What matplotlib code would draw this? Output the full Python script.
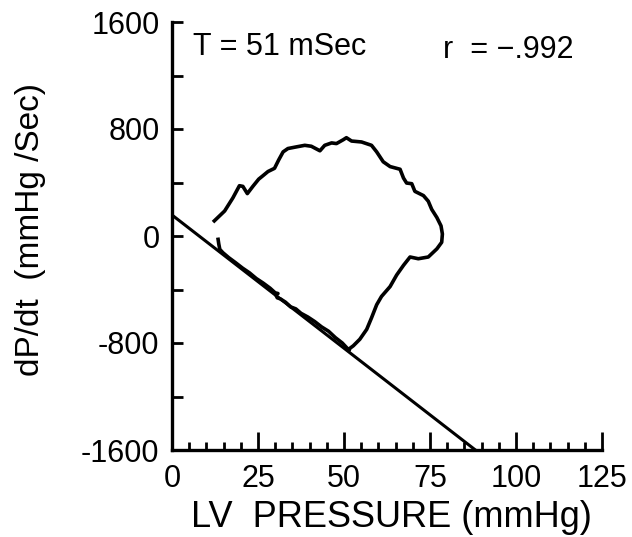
import matplotlib.pyplot as plt
from matplotlib.ticker import MultipleLocator

plt.rcParams['font.family'] = ['Liberation Sans', 'DejaVu Sans']

# dP/dt vs LV pressure loop
loop_p = [12.3, 15.3, 17.7, 19.6, 20.6, 21.9, 23.5, 25.2, 26.4, 27.9, 29.8,
          31.0, 32.3, 33.7, 36.1, 38.6, 40.5, 43.0, 44.4, 46.4, 47.8, 49.8,
          50.7, 52.2, 55.1, 58.0, 59.5, 61.4, 63.4, 66.3, 67.3, 68.2, 69.7,
          70.6, 73.1, 74.5, 75.5, 77.0, 78.2, 78.6, 78.4, 77.0, 74.5, 71.6,
          69.2, 67.3, 65.3, 63.4, 60.9, 59.5, 58.0, 56.6, 54.6, 52.7, 51.7,
          51.5, 49.5, 47.5, 45.5, 43.5, 41.5, 39.5, 37.5, 36.0, 34.5, 33.0,
          31.5, 30.6, 30.2, 30.8, 30.0, 28.5, 26.5, 24.5, 22.5, 20.5, 18.5,
          16.5, 14.8, 13.9, 13.6, 13.4]
loop_dpdt = [113, 187, 285, 376, 371, 317, 371, 425, 450, 482, 506,
             568, 629, 654, 666, 678, 671, 637, 678, 696, 691, 720,
             735, 710, 703, 678, 629, 555, 519, 499, 433, 396, 391,
             334, 302, 260, 199, 138, 76, 15, -47, -96, -157, -170,
             -157, -219, -292, -378, -452, -514, -612, -698, -772, -821, -840,
             -855, -800, -760, -712, -680, -640, -606, -578, -545, -530, -495,
             -470, -462, -440, -430, -425, -390, -352, -318, -275, -240, -200,
             -162, -125, -100, -60, -25]

# regression line end points
fit_p = [0, 88.2]
fit_dpdt = [157, -1600]

x_ticks = [0, 25, 50, 75, 100, 125]
x_tick_labels = ['0', '25', '50', '75', '100', '125']
y_ticks = [-1600, -800, 0, 800, 1600]
y_tick_labels = ['-1600', '-800', '0', '800', '1600']

fig = plt.figure(figsize=(6.32, 5.37), dpi=100)
ax = fig.add_axes([172 / 632, 87 / 537, 430 / 632, 428 / 537])

ax.plot(loop_p, loop_dpdt, color='black', lw=2.6, solid_joinstyle='round')
ax.plot(fit_p, fit_dpdt, color='black', lw=2.2)

ax.set_xlim(0, 125)
ax.set_ylim(-1600, 1600)
for side in ['top', 'right']:
    ax.spines[side].set_visible(False)
for side in ['left', 'bottom']:
    ax.spines[side].set_linewidth(2.4)

ax.set_xticks(x_ticks)
ax.set_xticklabels(x_tick_labels)
ax.xaxis.set_minor_locator(MultipleLocator(5))
ax.set_yticks(y_ticks)
ax.set_yticklabels(y_tick_labels)
ax.yaxis.set_minor_locator(MultipleLocator(400))

ax.tick_params(axis='x', which='major', direction='in', length=13, width=2,
               labelsize=22, pad=10)
ax.tick_params(axis='x', which='minor', direction='in', length=6, width=2)
ax.tick_params(axis='y', which='both', direction='in', length=8, width=2,
               labelsize=22, pad=9)

ax.set_xlabel('LV  PRESSURE (mmHg)', fontsize=26, va='center')
ax.xaxis.set_label_coords(0.51, -0.158)
ax.set_ylabel('dP/dt  (mmHg /Sec)', fontsize=24, va='center')
ax.yaxis.set_label_coords(-0.330, 0.516)

ax.text(6.1, 1353, 'T = 51 mSec', fontsize=22, va='baseline')
ax.text(78.8, 1328, 'r  = \u2212.992', fontsize=22, va='baseline')

fig.savefig('out.png', dpi=100)
